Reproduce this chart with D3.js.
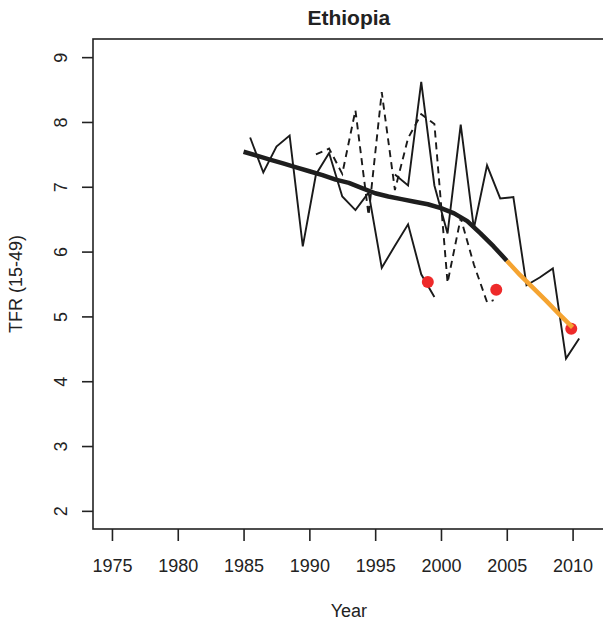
<!DOCTYPE html>
<html><head><meta charset="utf-8">
<script src="https://cdn.jsdelivr.net/npm/d3@7"></script>
<style>
html,body{margin:0;padding:0;background:#fff;}
svg{display:block;font-family:"Liberation Sans",Arial,Helvetica,sans-serif;}
</style></head>
<body>
<svg id="chart" width="603" height="622"></svg>
<script>
// ---- data ----
const title = "Ethiopia";
const xLabel = "Year";
const yLabel = "TFR (15-49)";
const xTicks = [1975, 1980, 1985, 1990, 1995, 2000, 2005, 2010];
const yTicks = [2, 3, 4, 5, 6, 7, 8, 9];

// survey 1 (solid)
const s1Years = [1985.5,1986.5,1987.5,1988.5,1989.5,1990.5,1991.5,1992.5,1993.5,1994.5,1995.5,1996.5,1997.5,1998.5,1999.5];
const s1Values = [7.76,7.22,7.62,7.79,6.08,7.19,7.52,6.85,6.64,6.91,5.75,6.09,6.42,5.65,5.30];
// survey 2 (solid)
const s2Years = [1996.5,1997.5,1998.5,1999.5,2000.5,2001.5,2002.5,2003.5,2004.5,2005.5,2006.5,2007.5,2008.5,2009.5,2010.5];
const s2Values = [7.19,7.02,8.62,7.02,6.28,7.96,6.36,7.33,6.82,6.84,5.48,5.60,5.74,4.35,4.66];
// survey 3 (dashed)
const s3Years = [1990.5,1991.5,1992.5,1993.5,1994.5,1995.5,1996.5,1997.5,1998.5,1999.5,2000.5,2001.5,2002.5,2003.5,2004.0];
const s3Values = [7.50,7.59,7.20,8.18,6.56,8.46,6.95,7.75,8.12,7.97,5.52,6.52,5.80,5.22,5.25];
// estimate (thick black)
const estYears = [1985,1986,1987,1988,1989,1990,1991,1992,1993,1994,1995,1996,1997,1998,1999,2000,2001,2002,2003,2004,2005];
const estValues = [7.54,7.48,7.42,7.36,7.30,7.24,7.18,7.11,7.06,6.98,6.90,6.85,6.81,6.77,6.73,6.67,6.59,6.47,6.28,6.08,5.86];
// projection (orange)
const projYears = [2005,2006,2007,2008,2009,2010];
const projValues = [5.86,5.64,5.44,5.24,5.03,4.83];
// direct estimates (red points)
const ptYears = [1999.0, 2004.2, 2009.9];
const ptValues = [5.53, 5.41, 4.81];

// ---- layout ----
const svg = d3.select("#chart");
const L = 93, R = 604.7, T = 39, B = 529;
const xlim = [1975, 2011], ylim = [2, 9];
const xr = (xlim[1]-xlim[0])*0.04, yr = (ylim[1]-ylim[0])*0.04;
const x = d3.scaleLinear().domain([xlim[0]-xr, xlim[1]+xr]).range([L, R]);
const y = d3.scaleLinear().domain([ylim[0]-yr, ylim[1]+yr]).range([B, T]);
const ink = "#222";

// box
svg.append("rect").attr("x", L).attr("y", T).attr("width", R-L).attr("height", B-T)
  .attr("fill", "none").attr("stroke", ink).attr("stroke-width", 1.6);

// axes
const xAxis = d3.axisBottom(x).tickValues(xTicks).tickFormat(d3.format("d")).tickSize(12).tickPadding(18);
const gx = svg.append("g").attr("transform", `translate(0,${B})`).call(xAxis);
gx.select(".domain").remove();
gx.selectAll("line").attr("stroke", ink).attr("stroke-width", 1.6);
gx.selectAll("text").attr("fill", ink).attr("font-size", 18).attr("font-family", "Liberation Sans, Arial, sans-serif");

const yAxis = d3.axisLeft(y).tickValues(yTicks).tickFormat(d3.format("d")).tickSize(11);
const gy = svg.append("g").attr("transform", `translate(${L},0)`).call(yAxis);
gy.select(".domain").remove();
gy.selectAll("line").attr("stroke", ink).attr("stroke-width", 1.6);
gy.selectAll("text").attr("fill", ink).attr("font-size", 18).attr("font-family", "Liberation Sans, Arial, sans-serif")
  .attr("x", null).attr("dy", null)
  .attr("text-anchor", "middle")
  .attr("transform", "translate(-32,0) rotate(-90)")
  .attr("y", 0).attr("dy", "0.35em");

// titles
svg.append("text").attr("x", (L+R)/2).attr("y", 25).attr("text-anchor", "middle")
  .attr("font-size", 21).attr("font-weight", "bold").attr("fill", ink).text(title);
svg.append("text").attr("x", (L+R)/2).attr("y", 617).attr("text-anchor", "middle")
  .attr("font-size", 18).attr("fill", ink).text(xLabel);
svg.append("text").attr("transform", `translate(22,${(T+B)/2}) rotate(-90)`).attr("text-anchor", "middle")
  .attr("font-size", 18).attr("fill", ink).text(yLabel);

// lines
const line = d3.line().x(d => x(d[0])).y(d => y(d[1]));
const zip = (a, b) => a.map((v, i) => [v, b[i]]);
const plot = svg.append("g");

plot.append("path").datum(zip(s3Years, s3Values)).attr("d", line)
  .attr("fill", "none").attr("stroke", "#1a1a1a").attr("stroke-width", 1.9)
  .attr("stroke-dasharray", "7,5").attr("stroke-linejoin", "miter");
plot.append("path").datum(zip(s1Years, s1Values)).attr("d", line)
  .attr("fill", "none").attr("stroke", "#1a1a1a").attr("stroke-width", 1.9);
plot.append("path").datum(zip(s2Years, s2Values)).attr("d", line)
  .attr("fill", "none").attr("stroke", "#1a1a1a").attr("stroke-width", 1.9);

plot.append("path").datum(zip(estYears, estValues)).attr("d", line)
  .attr("fill", "none").attr("stroke", "#1e1e1e").attr("stroke-width", 4.5).attr("stroke-linejoin", "round");

plot.selectAll("circle.pt").data(zip(ptYears, ptValues)).enter().append("circle")
  .attr("class", "pt").attr("cx", d => x(d[0])).attr("cy", d => y(d[1])).attr("r", 6)
  .attr("fill", "#ee2a2a");

plot.append("path").datum(zip(projYears, projValues)).attr("d", line)
  .attr("fill", "none").attr("stroke", "#f5a431").attr("stroke-width", 4.5).attr("stroke-linejoin", "round");
</script>
</body></html>
